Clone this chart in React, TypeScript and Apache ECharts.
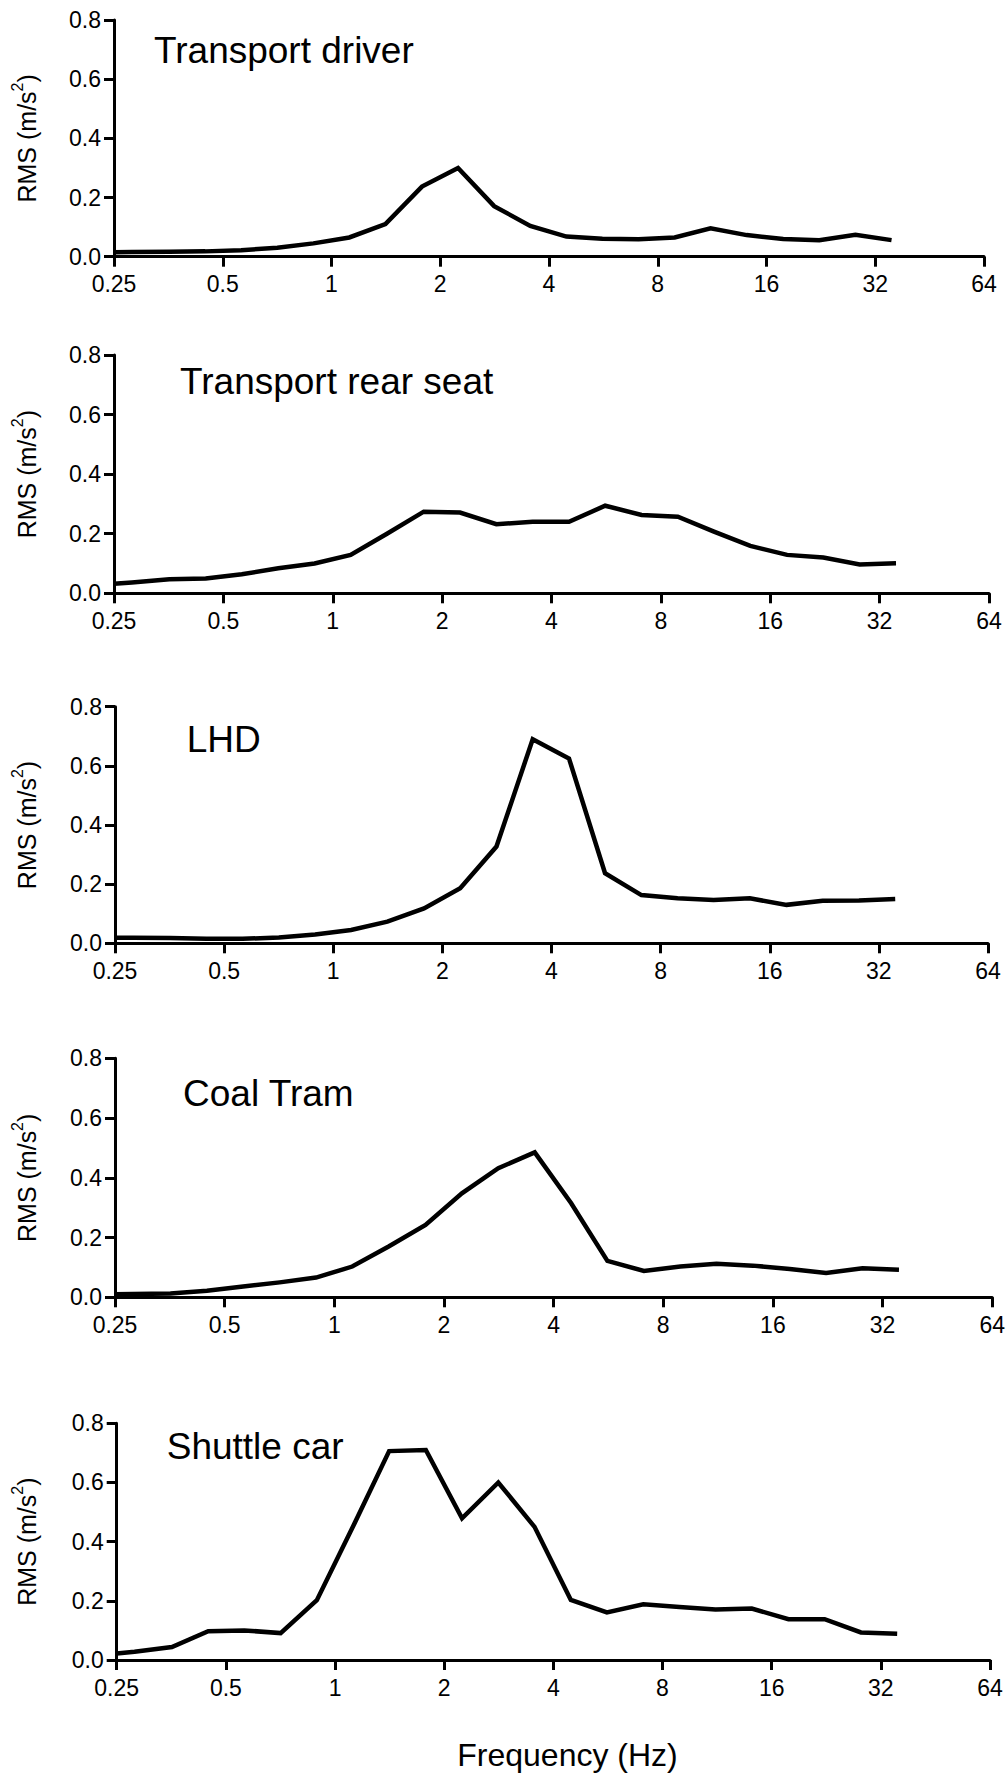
import React, { useEffect, useRef } from "react";
import * as echarts from "echarts";

// 1/3-octave band frequencies (Hz)
const frequencies = [0.25, 0.28, 0.355, 0.447, 0.562, 0.708, 0.891, 1.12, 1.41, 1.78, 2.24, 2.82, 3.55, 4.47, 5.62, 7.08, 8.91, 11.2, 14.1, 17.8, 22.4, 28.2, 35.5];

const transportDriver = [0.015, 0.016, 0.017, 0.018, 0.022, 0.030, 0.045, 0.065, 0.110, 0.237, 0.300, 0.171, 0.104, 0.068, 0.061, 0.059, 0.065, 0.096, 0.073, 0.060, 0.056, 0.074, 0.056];
const transportRearSeat = [0.032, 0.036, 0.047, 0.050, 0.064, 0.084, 0.100, 0.129, 0.200, 0.274, 0.271, 0.232, 0.240, 0.240, 0.294, 0.263, 0.257, 0.207, 0.159, 0.129, 0.120, 0.097, 0.101];
const lhd = [0.019, 0.019, 0.018, 0.015, 0.015, 0.020, 0.030, 0.045, 0.073, 0.118, 0.186, 0.327, 0.690, 0.625, 0.237, 0.163, 0.152, 0.146, 0.152, 0.130, 0.144, 0.145, 0.150];
const coalTram = [0.010, 0.011, 0.013, 0.022, 0.036, 0.050, 0.066, 0.103, 0.170, 0.242, 0.348, 0.432, 0.485, 0.315, 0.122, 0.088, 0.103, 0.112, 0.106, 0.095, 0.081, 0.097, 0.092];
const shuttleCar = [0.022, 0.028, 0.044, 0.097, 0.100, 0.091, 0.202, 0.450, 0.706, 0.710, 0.479, 0.600, 0.450, 0.203, 0.161, 0.188, 0.179, 0.171, 0.174, 0.138, 0.138, 0.093, 0.089];

const panelTitles = ["Transport driver", "Transport rear seat", "LHD", "Coal Tram", "Shuttle car"];
const panelValues = [transportDriver, transportRearSeat, lhd, coalTram, shuttleCar];

const xTickLabels = ["0.25", "0.5", "1", "2", "4", "8", "16", "32", "64"];
const yTickLabels = ["0.0", "0.2", "0.4", "0.6", "0.8"];
const yAxisNameMain = "RMS (m/s";
const yAxisNameSup = "2";
const yAxisNameEnd = ")";
const xAxisName = "Frequency (Hz)";

// layout (pixels)
const gridLayout = [
  { left: 114, right: 24, top: 20, height: 236.7 },
  { left: 114, right: 19, top: 355, height: 238.3 },
  { left: 115, right: 20, top: 706.7, height: 236.6 },
  { left: 115, right: 14, top: 1058.3, height: 239 },
  { left: 116.7, right: 18, top: 1423.3, height: 236.7 },
];
const titlePos = [
  { x: 154, y: 50.2 },
  { x: 180, y: 381.9 },
  { x: 186.7, y: 739.2 },
  { x: 183, y: 1093.6 },
  { x: 166.7, y: 1446.9 },
];

const FONT = "'Liberation Sans', Arial, Helvetica, sans-serif";

export default function App() {
  const ref = useRef<HTMLDivElement>(null);

  useEffect(() => {
    const chart = echarts.init(ref.current!, null, { renderer: "svg" });

    const grid = gridLayout.map((g) => ({ left: g.left, right: g.right, top: g.top, height: g.height, containLabel: false }));

    const xAxis = gridLayout.map((_, i) => ({
      type: "log",
      logBase: 2,
      min: 0.25,
      max: 64,
      gridIndex: i,
      axisLine: { show: true, lineStyle: { color: "#000", width: 3 } },
      axisTick: { show: true, length: 10, lineStyle: { color: "#000", width: 3 } },
      minorTick: { show: false },
      splitLine: { show: false },
      axisLabel: {
        color: "#000",
        fontSize: 23,
        fontFamily: FONT,
        margin: 16,
        showMinLabel: true,
        showMaxLabel: true,
        formatter: (v: number) => xTickLabels.find((l) => Math.abs(parseFloat(l) - v) < 1e-6) ?? "",
      },
    }));

    const yAxis = gridLayout.map((_, i) => ({
      type: "value",
      min: 0,
      max: 0.8,
      interval: 0.2,
      gridIndex: i,
      axisLine: { show: true, lineStyle: { color: "#000", width: 3 } },
      axisTick: { show: true, length: 10, lineStyle: { color: "#000", width: 3 } },
      splitLine: { show: false },
      axisLabel: {
        color: "#000",
        fontSize: 23,
        fontFamily: FONT,
        margin: 13,
        formatter: (v: number) => yTickLabels[Math.round(v / 0.2)] ?? "",
      },
    }));

    const series = panelValues.map((vals, i) => ({
      type: "line",
      xAxisIndex: i,
      yAxisIndex: i,
      data: frequencies.map((f, j) => [f, vals[j]]),
      symbol: "none",
      showSymbol: false,
      lineStyle: { color: "#000", width: 4.5, join: "miter" },
      z: 3,
    }));

    const graphics: any[] = [];
    panelTitles.forEach((t, i) => {
      graphics.push({
        type: "text",
        x: titlePos[i].x,
        y: titlePos[i].y,
        style: { text: t, fill: "#000", fontSize: 37, fontFamily: FONT, align: "left", verticalAlign: "middle" },
      });
      const g = gridLayout[i];
      graphics.push({
        type: "text",
        x: 24,
        y: g.top + g.height / 2,
        rotation: Math.PI / 2,
        style: {
          text: `{n|${yAxisNameMain}}{s|${yAxisNameSup}}{n|${yAxisNameEnd}}`,
          fill: "#000",
          fontSize: 25,
          fontFamily: FONT,
          align: "center",
          verticalAlign: "middle",
          rich: {
            n: { fill: "#000", fontSize: 25, fontFamily: FONT, lineHeight: 30, verticalAlign: "bottom" },
            s: { fill: "#000", fontSize: 16, fontFamily: FONT, lineHeight: 16, verticalAlign: "top" },
          },
        },
      });
    });
    graphics.push({
      type: "text",
      x: 567.5,
      y: 1755,
      style: { text: xAxisName, fill: "#000", fontSize: 32, fontFamily: FONT, align: "center", verticalAlign: "middle" },
    });

    chart.setOption({
      animation: false,
      backgroundColor: "#fff",
      grid,
      xAxis,
      yAxis,
      series,
      graphic: graphics,
    });

    return () => chart.dispose();
  }, []);

  return <div ref={ref} style={{ position: "absolute", left: 0, top: 0, width: 1008, height: 1774, background: "#fff" }} />;
}
